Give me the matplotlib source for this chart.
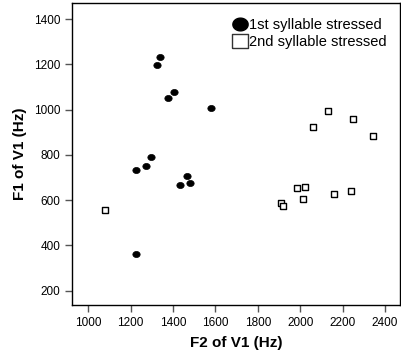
import matplotlib
matplotlib.use("Agg")
import matplotlib.pyplot as plt
import numpy as np
from matplotlib.lines import Line2D

plt.rcParams['font.family'] = ['Liberation Sans', 'DejaVu Sans']

# 1st syllable stressed
f2_first = [1337, 1326, 1376, 1406, 1580, 1297, 1271, 1226, 1464, 1481, 1434, 1225]
f1_first = [1231, 1196, 1054, 1079, 1006, 791, 750, 735, 707, 676, 666, 362]
# 2nd syllable stressed
f2_second = [1080, 1910, 1917, 1983, 2025, 2013, 2160, 2241, 2061, 2132, 2250, 2344]
f1_second = [557, 589, 576, 655, 660, 607, 626, 641, 925, 995, 957, 883]

xticks = [1000, 1200, 1400, 1600, 1800, 2000, 2200, 2400]
yticks = [200, 400, 600, 800, 1000, 1200, 1400]

# slightly wide markers (the reference is horizontally stretched)
t = np.linspace(0, 2 * np.pi, 41)
ellipse = np.column_stack([1.2 * np.cos(t), np.sin(t)])
rect = np.array([[-1.15, -1], [1.15, -1], [1.15, 1], [-1.15, 1], [-1.15, -1]])

fig = plt.figure(figsize=(4.02, 3.53), dpi=100)
ax = fig.add_axes([0.179, 0.136, 0.816, 0.855])

ax.scatter(f2_first, f1_first, marker=ellipse, s=28, color='black', edgecolors='black',
           linewidths=0.5, zorder=3)
ax.scatter(f2_second, f1_second, marker=rect, s=22, facecolors='white', edgecolors='black',
           linewidths=1.0, zorder=3)

ax.set_xlim(923, 2471)
ax.set_ylim(137, 1471)
ax.set_xticks(xticks)
ax.set_yticks(yticks)
ax.tick_params(direction='out', length=5, width=1, labelsize=8.5, colors='#555555', labelcolor='black')
for sp in ax.spines.values():
    sp.set_linewidth(1.0)
    sp.set_color('black')

ax.set_xlabel('F2 of V1 (Hz)', fontsize=11, fontweight='bold', labelpad=5)
ax.set_ylabel('F1 of V1 (Hz)', fontsize=11, fontweight='bold', labelpad=5)

handles = [
    Line2D([], [], linestyle='none', marker=ellipse, markersize=11, color='black'),
    Line2D([], [], linestyle='none', marker=rect, markersize=11, markerfacecolor='white',
           markeredgecolor='#333333', markeredgewidth=1.0),
]
labels = ['1st syllable stressed', '2nd syllable stressed']
leg = ax.legend(handles, labels, loc='upper right', bbox_to_anchor=(0.99, 0.985), frameon=False,
                fontsize=10.5, handletextpad=0.1, labelspacing=0.2, borderpad=0.2,
                handlelength=1.0)

fig.savefig('out.png', dpi=100)
